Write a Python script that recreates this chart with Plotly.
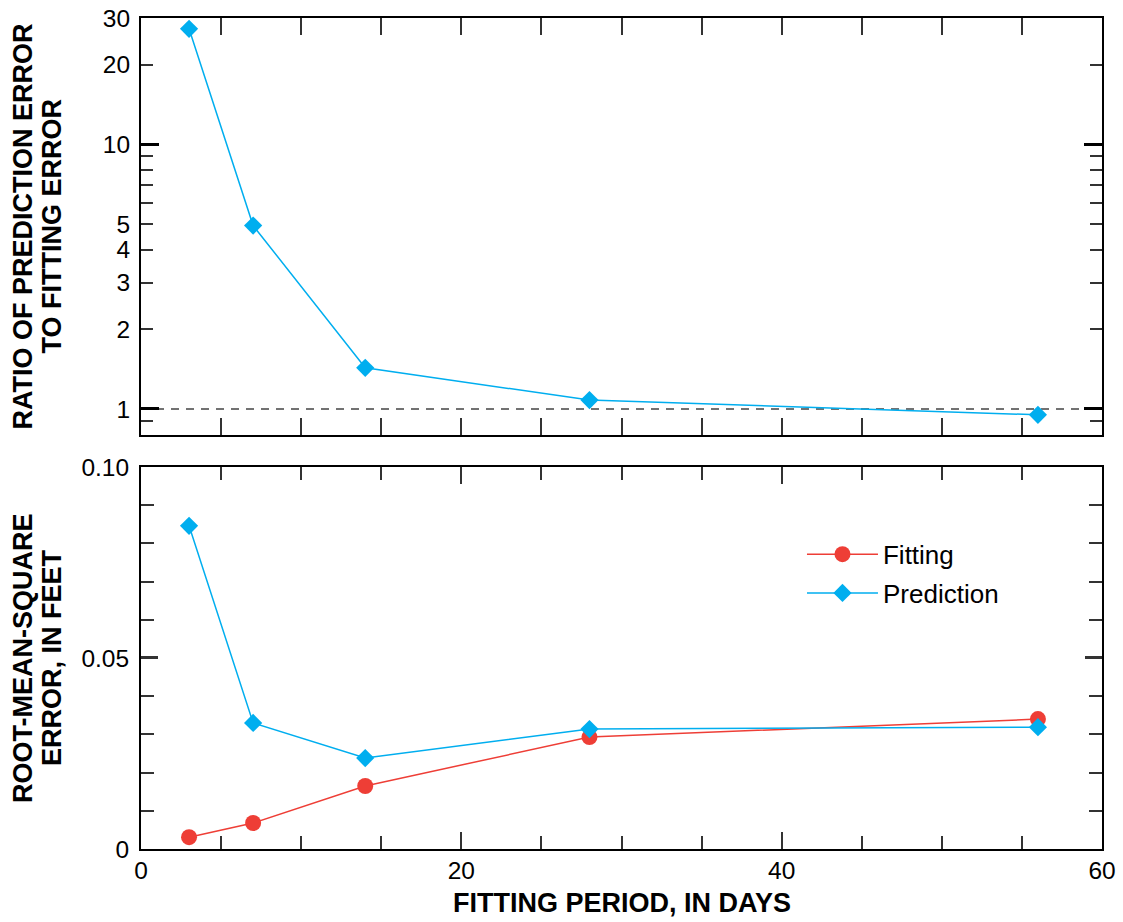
import plotly.graph_objects as go
from plotly.subplots import make_subplots

# ---- data ----
days = [3, 7, 14, 28, 56]
ratio = [27.3, 4.93, 1.43, 1.08, 0.95]
rmse_fitting = [0.0031, 0.0068, 0.0165, 0.0293, 0.0340]
rmse_prediction = [0.0846, 0.0330, 0.0238, 0.0314, 0.0319]

ratio_tickvals = [1, 2, 3, 4, 5, 10, 20, 30]
ratio_ticktext = ["1", "2", "3", "4", "5", "10", "20", "30"]
ratio_minor = [0.9, 6, 7, 8, 9]
ratio_long = [1, 10]
ratio_reference = 1

rmse_tickvals = [0, 0.05, 0.10]
rmse_ticktext = ["0", "0.05", "0.10"]
x_tickvals = [0, 20, 40, 60]
x_ticktext = ["0", "20", "40", "60"]

BLUE = "#00AEEF"
RED = "#EE3E36"
FONT = "Arial, 'Liberation Sans', Helvetica, sans-serif"

fig = make_subplots(rows=2, cols=1, shared_xaxes=False, vertical_spacing=0.0385,
                    row_heights=[0.502, 0.46])

fig.add_trace(go.Scatter(x=days, y=ratio, mode="lines+markers",
                         line=dict(color=BLUE, width=1.5),
                         marker=dict(symbol="diamond", size=14, color=BLUE),
                         showlegend=False), row=1, col=1)

fig.add_trace(go.Scatter(x=days, y=rmse_fitting, mode="lines+markers", name="Fitting",
                         legendgroup="fit",
                         line=dict(color=RED, width=1.5),
                         marker=dict(symbol="circle", size=16, color=RED)), row=2, col=1)
fig.add_trace(go.Scatter(x=days, y=rmse_prediction, mode="lines+markers", name="Prediction",
                         legendgroup="pred",
                         line=dict(color=BLUE, width=1.5),
                         marker=dict(symbol="diamond", size=14, color=BLUE)), row=2, col=1)

fig.add_hline(y=ratio_reference, line=dict(color="#444444", width=1.6, dash="8px,7px"),
              row=1, col=1, layer="below")

axis_common = dict(showline=True, linecolor="black", linewidth=2, mirror="allticks",
                   ticks="inside", tickcolor="#333333", showgrid=False, zeroline=False,
                   automargin=False,
                   tickfont=dict(family=FONT, size=24.5, color="black"))

# x axes
fig.update_xaxes(range=[0, 60], tickmode="array", tickvals=x_tickvals, ticktext=x_ticktext,
                 ticklen=17, tickwidth=1.5,
                 minor=dict(dtick=5, tick0=0, ticklen=13, tickwidth=1.5, tickcolor="#333333",
                            ticks="inside", showgrid=False),
                 **axis_common)
fig.update_xaxes(showticklabels=False, row=1, col=1)
fig.update_xaxes(ticklabelstandoff=-1, row=2, col=1)

# top y axis (log)
fig.update_yaxes(type="log", range=[-0.0985, 1.477], tickmode="array",
                 tickvals=ratio_tickvals, ticktext=ratio_ticktext,
                 ticklen=12, tickwidth=1.5, ticklabelstandoff=4,
                 minor=dict(tickvals=ratio_minor, ticklen=12, tickwidth=1.5,
                            tickcolor="#333333", ticks="inside", showgrid=False),
                 row=1, col=1, **axis_common)

# bottom y axis
fig.update_yaxes(range=[0, 0.10], tickmode="array", tickvals=rmse_tickvals, ticktext=rmse_ticktext,
                 ticklen=17, tickwidth=2.5, ticklabelstandoff=5,
                 minor=dict(dtick=0.01, tick0=0, ticklen=13, tickwidth=1.5,
                            tickcolor="#333333", ticks="inside", showgrid=False),
                 row=2, col=1, **axis_common)

fig.update_layout(yaxis=dict(domain=[0.4982, 1.0]), yaxis2=dict(domain=[0.0, 0.4597]))

# overlay axis for long ticks at 1 and 10 on the log axis
fig.update_layout(yaxis3=dict(overlaying="y", anchor="x", type="log", range=[-0.0985, 1.477],
                              domain=[0.4982, 1.0],
                              tickmode="array", tickvals=ratio_long, ticks="inside",
                              ticklen=18, tickwidth=3, tickcolor="black", mirror="allticks",
                              showticklabels=False, showgrid=False, zeroline=False,
                              showline=False, automargin=False))
fig.add_trace(go.Scatter(x=[], y=[], yaxis="y3", xaxis="x", showlegend=False))

title_font = dict(family=FONT, size=27, color="black")
for txt, xp, yp in [("RATIO OF PREDICTION ERROR", -0.1228, 0.749),
                    ("TO FITTING ERROR", -0.0926, 0.749),
                    ("ROOT-MEAN-SQUARE", -0.1228, 0.2298),
                    ("ERROR, IN FEET", -0.0926, 0.2298)]:
    fig.add_annotation(text="<b>" + txt + "</b>", xref="paper", yref="paper", x=xp, y=yp,
                       textangle=-90, xanchor="center", yanchor="middle", showarrow=False,
                       font=title_font)
fig.add_annotation(text="<b>FITTING PERIOD, IN DAYS</b>",
                   xref="paper", yref="paper", x=0.5, y=-0.065,
                   xanchor="center", yanchor="middle", showarrow=False, font=title_font)

fig.update_layout(width=1123, height=922, margin=dict(l=141, r=21, t=18, b=73),
                  plot_bgcolor="white", paper_bgcolor="white",
                  font=dict(family=FONT, size=24.5, color="black"),
                  legend=dict(x=0.6878, y=0.383, xanchor="left", yanchor="top",
                              font=dict(family=FONT, size=26, color="black"),
                              bgcolor="rgba(0,0,0,0)", itemwidth=71, tracegroupgap=2))

fig.write_html("out.html")
